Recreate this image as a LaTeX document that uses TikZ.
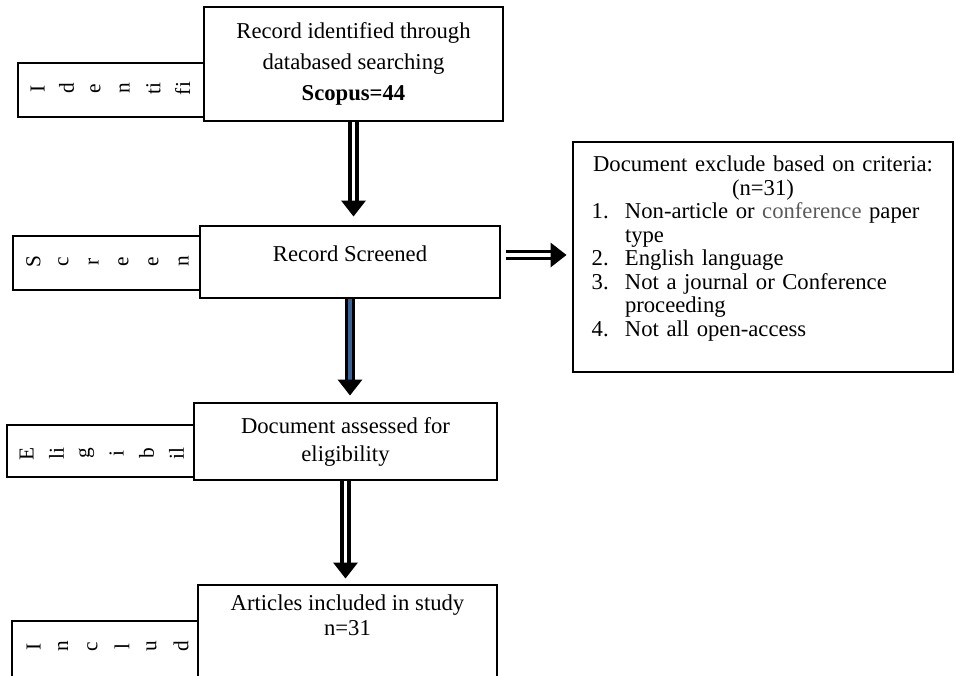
\documentclass[tikz,border=0pt]{standalone}
\usepackage{fontspec}
\setmainfont{Liberation Serif}
\usepackage{xcolor}
\usetikzlibrary{arrows.meta, positioning}

\definecolor{wordgray}{RGB}{90,90,90}
\definecolor{shaftblue}{RGB}{58,98,150}
\newcommand{\itemno}[1]{\hspace*{14pt}\makebox[25pt][l]{#1}}

\begin{document}
\begin{tikzpicture}[
  x=0.75pt, y=-0.75pt,
  font=\fontsize{17}{23}\selectfont,
  box/.style={draw, line width=2.2pt, inner sep=0pt, align=center},
  side/.style={draw, line width=2.2pt, inner sep=0pt},
  ltr/.style={rotate=90, inner sep=0pt, font=\fontsize{16}{16}\selectfont},
  inlbl/.style={anchor=north, inner sep=0pt, align=center},
  hollow/.style={draw=black, line width=2.6pt, double=white, double distance=2.4pt,
                 -{Triangle[length=12pt, width=18pt]}},
]
\useasboundingbox (0,0) rectangle (956,675);

% ============ SIDE TABS ============
\node[side, minimum width=139.5pt,  minimum height=40.5pt] (idside) at (111,90) {};
\node[side, minimum width=140.25pt, minimum height=40.5pt] (scside) at (106.5,263) {};
\node[side, minimum width=140.25pt, minimum height=39pt]   (elside) at (100.5,451) {};
\node[side, minimum width=139.5pt,  minimum height=59.25pt] (inside) at (105,660.5) {};

\foreach \c [count=\k from 0] in {I,d,e,n,ti,fi}
  \node[ltr] at ([shift={({21+29*\k},27)}]idside.north west) {\c};
\foreach \c [count=\k from 0] in {S,c,r,e,e,n}
  \node[ltr] at ([shift={({22+30*\k},27)}]scside.north west) {\c};
\foreach \c [count=\k from 0] in {E,li,g,i,b,il}
  \node[ltr] at ([shift={({21+30*\k},30)}]elside.north west) {\c};
\foreach \c [count=\k from 0] in {I,n,c,l,u,d}
  \node[ltr] at ([shift={({23+29.5*\k},27)}]inside.north west) {\c};

% ============ MAIN BOXES ============
\node[box, fill=white, minimum width=224.25pt, minimum height=85.5pt] (ident) at (353.5,64)
  {Record identified through\\databased searching\\\textbf{Scopus=44}};

\node[box, fill=white, minimum width=225pt, minimum height=54pt,
      label={[inlbl, yshift=-15.5pt]north:Record Screened}] (screen) at (350,262) {};

\node[box, fill=white, minimum width=227.25pt, minimum height=57.75pt,
      font=\fontsize{17}{21}\selectfont] (elig) at (345.5,441.5)
  {Document assessed for\\eligibility};

\node[box, fill=white, minimum width=224.25pt, minimum height=86.25pt,
      label={[inlbl, yshift=-8pt, font=\fontsize{17}{19}\selectfont]north:{Articles included in study\\n=31}}]
  (art) at (347.5,642.5) {};

% Exclusion box
\node[box, minimum width=285pt, minimum height=172.5pt,
      label={[inlbl, yshift=-11.5pt, text width=285pt, align=left,
              font=\fontsize{17}{17.6}\selectfont]north:{%
        \makebox[285pt]{Document exclude based on criteria:}\\
        \makebox[285pt]{(n=31)}\\
        \itemno{1.}Non-article or \textcolor{wordgray}{conference} paper\\
        \hspace*{39pt}type\\
        \itemno{2.}English language\\
        \itemno{3.}Not a journal or Conference\\
        \hspace*{39pt}proceeding\\
        \itemno{4.}Not all open-access}}] (excl) at (763,257) {};

% ============ ARROWS ============
\draw[hollow, shorten >=6pt] (ident.south) -- (ident.south |- screen.north);
\draw[hollow, double=shaftblue, shorten >=4.5pt] (screen.south) -- (screen.south |- elig.north);
\draw[hollow, shorten >=3.75pt] (elig.south) -- (elig.south |- art.north);
\draw[hollow, shorten <=3.75pt, shorten >=3.75pt]
  ([yshift=5.25pt]screen.east) -- ([yshift=5.25pt]screen.east -| excl.west);

\end{tikzpicture}
\end{document}
